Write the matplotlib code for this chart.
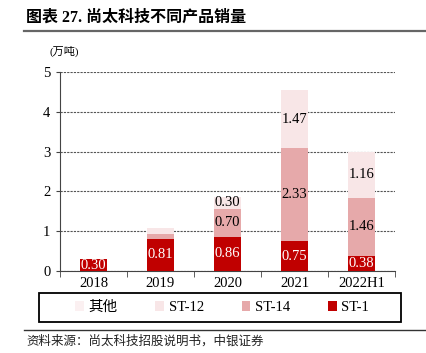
import matplotlib
matplotlib.use("Agg")
import matplotlib.pyplot as plt
from matplotlib.patches import Rectangle
import numpy as np

plt.rcParams['font.family'] = ['Liberation Serif', 'Noto Sans CJK SC']

categories = ["2018", "2019", "2020", "2021", "2022H1"]
st1 = [0.30, 0.81, 0.86, 0.75, 0.38]
st14 = [0.00, 0.13, 0.70, 2.33, 1.46]
st12 = [0.00, 0.14, 0.30, 1.47, 1.16]
other = [0.00, 0.00, 0.00, 0.00, 0.00]
yticks = [0, 1, 2, 3, 4, 5]

series = [
    ("ST-1", st1, "#C00000", "white"),
    ("ST-14", st14, "#E6A9AA", "black"),
    ("ST-12", st12, "#F8E6E7", "black"),
    ("其他", other, "#FBF0F1", "black"),
]

fig = plt.figure(figsize=(4.27, 3.53), dpi=100)
ax = fig.add_axes([60/427, 82/353, 335/427, 199/353])

x = np.arange(len(categories))
bottom = np.zeros(len(categories))
handles = {}
for name, vals, color, tcolor in series:
    vals = np.array(vals)
    bars = ax.bar(x, vals, 0.4, bottom=bottom, color=color, edgecolor='none', zorder=3)
    handles[name] = bars
    for xi, v, b in zip(x, vals, bottom):
        if v >= 0.25:
            ax.text(xi, b + v / 2, f"{v:.2f}", ha='center', va='center',
                    color=tcolor, fontsize=10.5, zorder=4)
    bottom = bottom + vals

ax.set_xlim(-0.5, len(categories) - 0.5)
ax.set_ylim(0, 5)
ax.set_yticks(yticks)
ax.set_yticklabels([str(t) for t in yticks], fontsize=10.5)
ax.yaxis.grid(True, linestyle=(0, (2, 1)), color='#555555', linewidth=0.8, zorder=0)
ax.set_axisbelow(True)

ax.set_xticks(x)
ax.set_xticklabels(categories, fontsize=10.5)
ax.tick_params(axis='x', length=0, pad=4)
ax.set_xticks(np.arange(-0.5, len(categories)), minor=True)
ax.tick_params(axis='x', which='minor', length=4, direction='out', color='#444444')
ax.tick_params(axis='y', length=3, direction='out', color='#444444', pad=4)

for s in ['top', 'right']:
    ax.spines[s].set_visible(False)
ax.spines['left'].set_color('#444444')
ax.spines['bottom'].set_color('#444444')

fig.text(50/427, 1 - 51/353, "(万吨)", fontsize=8, ha='left', va='center')

fig.text(26/427, 1 - 18/353, "图表 27. 尚太科技不同产品销量", fontsize=11.5,
         fontweight='bold', ha='left', va='center')
fig.add_artist(plt.Line2D([24/427, 1], [1 - 31/353, 1 - 31/353], color='#666666', lw=1.6))
fig.add_artist(plt.Line2D([24/427, 1], [1 - 330/353, 1 - 330/353], color='#333333', lw=1.0))
fig.text(26/427, 1 - 341/353, "资料来源：尚太科技招股说明书，中银证券", fontsize=9,
         ha='left', va='center', color='#222222', style='italic')

# legend frame
fig.add_artist(Rectangle((39/427, 1 - 322/353), 362/427, 29/353, transform=fig.transFigure,
                         fill=False, edgecolor='black', linewidth=1.3))
order = ["其他", "ST-12", "ST-14", "ST-1"]
leg = fig.legend([handles[n] for n in order], order, loc='center',
                 bbox_to_anchor=(222/427, 1 - 307.5/353), ncol=4, frameon=False,
                 fontsize=10.5, handlelength=0.6, handleheight=0.6, handletextpad=0.3,
                 columnspacing=2.6, borderpad=0.3)

fig.savefig("out.png", dpi=100)
